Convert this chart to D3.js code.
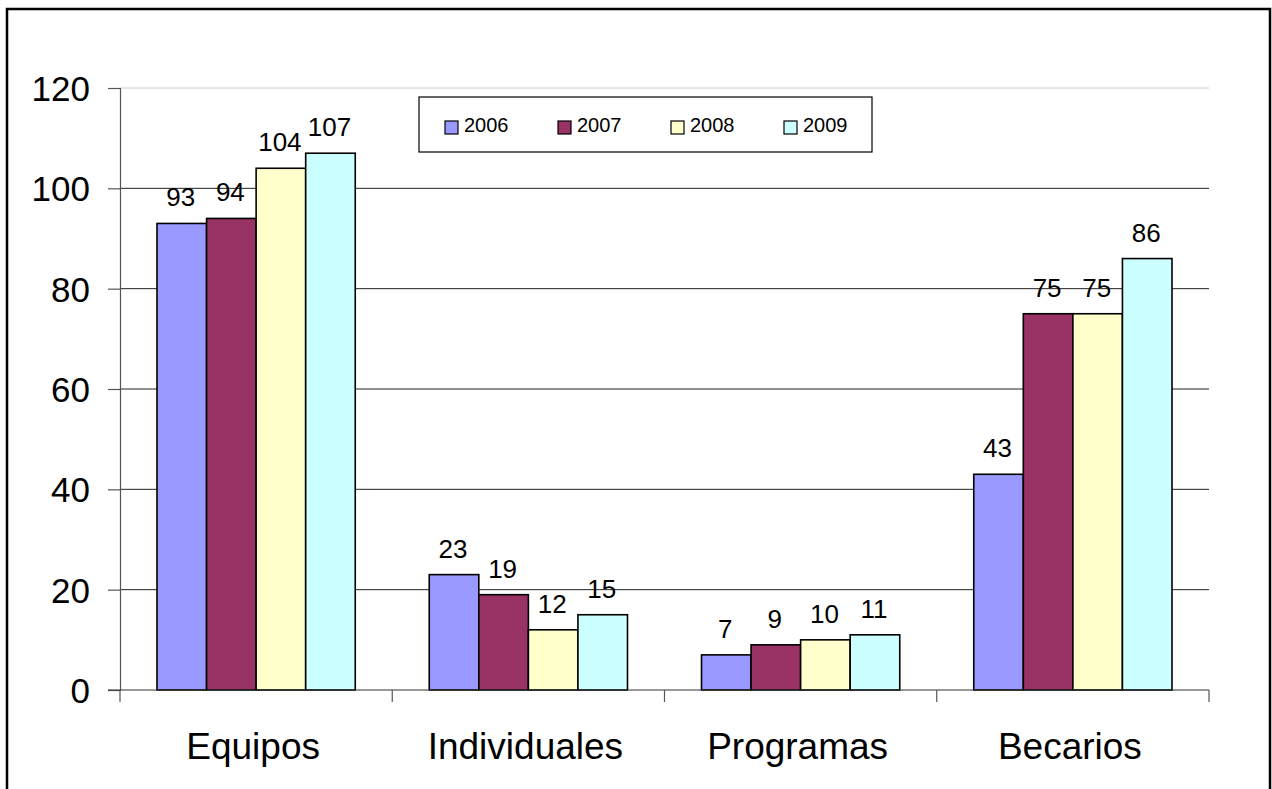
<!DOCTYPE html>
<html>
<head>
<meta charset="utf-8">
<script src="https://cdn.jsdelivr.net/npm/d3@7"></script>
<style>
body { margin: 0; background: #fff; }
svg text { font-family: "Liberation Sans", Arial, sans-serif; fill: #000; }
</style>
</head>
<body>
<svg id="chart" width="1272" height="789"></svg>
<script>
var categories = ['Equipos', 'Individuales', 'Programas', 'Becarios'];
var years = ['2006', '2007', '2008', '2009'];
var v2006 = [93, 23, 7, 43];
var v2007 = [94, 19, 9, 75];
var v2008 = [104, 12, 10, 75];
var v2009 = [107, 15, 11, 86];
var colors = ['#9999FF', '#993366', '#FFFFCC', '#CCFFFF'];
var yTicks = [0, 20, 40, 60, 80, 100, 120];

var series = [v2006, v2007, v2008, v2009];

var svg = d3.select('#chart');

// outer frame
svg.append('rect')
    .attr('x', 7).attr('y', 9)
    .attr('width', 1263).attr('height', 800)
    .attr('fill', 'none')
    .attr('stroke', '#000')
    .attr('stroke-width', 2.5);

var y = d3.scaleLinear().domain([0, 120]).range([690, 88]);
var x = d3.scaleBand().domain(categories).range([120, 1209]).paddingInner(0).paddingOuter(0);
// 4 bars take ~198px of each 272px category
var xs = d3.scaleBand().domain(years).range([37, x.bandwidth() - 37]).paddingInner(0).paddingOuter(0);

// gridlines
svg.append('g').selectAll('line')
    .data(yTicks.filter(function (d) { return d > 0; }))
    .enter().append('line')
    .attr('x1', 120).attr('x2', 1209)
    .attr('y1', function (d) { return y(d); })
    .attr('y2', function (d) { return y(d); })
    .attr('stroke', function (d) { return d === 120 ? '#ccc' : '#222'; })
    .attr('stroke-width', 1);

// bars
var groups = svg.append('g').selectAll('g')
    .data(series)
    .enter().append('g')
    .attr('fill', function (d, i) { return colors[i]; });

groups.each(function (vals, si) {
    var g = d3.select(this);
    g.selectAll('rect')
        .data(vals)
        .enter().append('rect')
        .attr('x', function (d, ci) { return x(categories[ci]) + xs(years[si]); })
        .attr('y', function (d) { return y(d); })
        .attr('width', xs.bandwidth())
        .attr('height', function (d) { return y(0) - y(d); })
        .attr('stroke', '#000')
        .attr('stroke-width', 1.6);
    g.selectAll('text')
        .data(vals)
        .enter().append('text')
        .attr('x', function (d, ci) { return x(categories[ci]) + xs(years[si]) + xs.bandwidth() / 2 - 1; })
        .attr('y', function (d) { return y(d) - 17; })
        .attr('text-anchor', 'middle')
        .attr('font-size', 26)
        .text(function (d) { return d; });
});

// y axis
var yAxis = d3.axisLeft(y).tickValues(yTicks).tickSize(12).tickPadding(18);
var ya = svg.append('g').attr('transform', 'translate(120,0)').call(yAxis);
ya.select('.domain').attr('stroke', '#555').attr('stroke-width', 1.2);
ya.selectAll('.tick line').attr('stroke', '#555').attr('stroke-width', 1.2);
ya.selectAll('.tick text')
    .attr('font-size', 35)
    .attr('font-family', '"Liberation Sans", Arial, sans-serif')
    .attr('dy', '0.36em')
    .attr('fill', '#000');

// x axis
var xa = svg.append('g').attr('transform', 'translate(0,690)');
xa.append('line').attr('x1', 108).attr('x2', 1209).attr('y1', 0).attr('y2', 0)
    .attr('stroke', '#333').attr('stroke-width', 1.2);
xa.selectAll('line.tk')
    .data(categories.concat(['end']))
    .enter().append('line')
    .attr('class', 'tk')
    .attr('x1', function (d, i) { return i < categories.length ? x(d) : x.range()[1]; })
    .attr('x2', function (d, i) { return i < categories.length ? x(d) : x.range()[1]; })
    .attr('y1', 0).attr('y2', 12)
    .attr('stroke', '#555').attr('stroke-width', 1.2);
xa.selectAll('text')
    .data(categories)
    .enter().append('text')
    .attr('x', function (d) { return x(d) + x.bandwidth() / 2 - 3; })
    .attr('y', 69)
    .attr('text-anchor', 'middle')
    .attr('font-size', 37)
    .text(function (d) { return d; });

// legend
var lg = svg.append('g');
lg.append('rect')
    .attr('x', 419).attr('y', 97).attr('width', 453).attr('height', 55)
    .attr('fill', '#fff').attr('stroke', '#000').attr('stroke-width', 1.2);
var items = lg.selectAll('g.item')
    .data(years)
    .enter().append('g')
    .attr('class', 'item')
    .attr('transform', function (d, i) { return 'translate(' + (445 + i * 113) + ',0)'; });
items.append('rect')
    .attr('x', 0).attr('y', 121).attr('width', 13).attr('height', 13)
    .attr('fill', function (d, i) { return colors[i]; })
    .attr('stroke', '#000').attr('stroke-width', 1.2);
items.append('text')
    .attr('x', 19).attr('y', 132)
    .attr('font-size', 20)
    .text(function (d) { return d; });
</script>
</body>
</html>
